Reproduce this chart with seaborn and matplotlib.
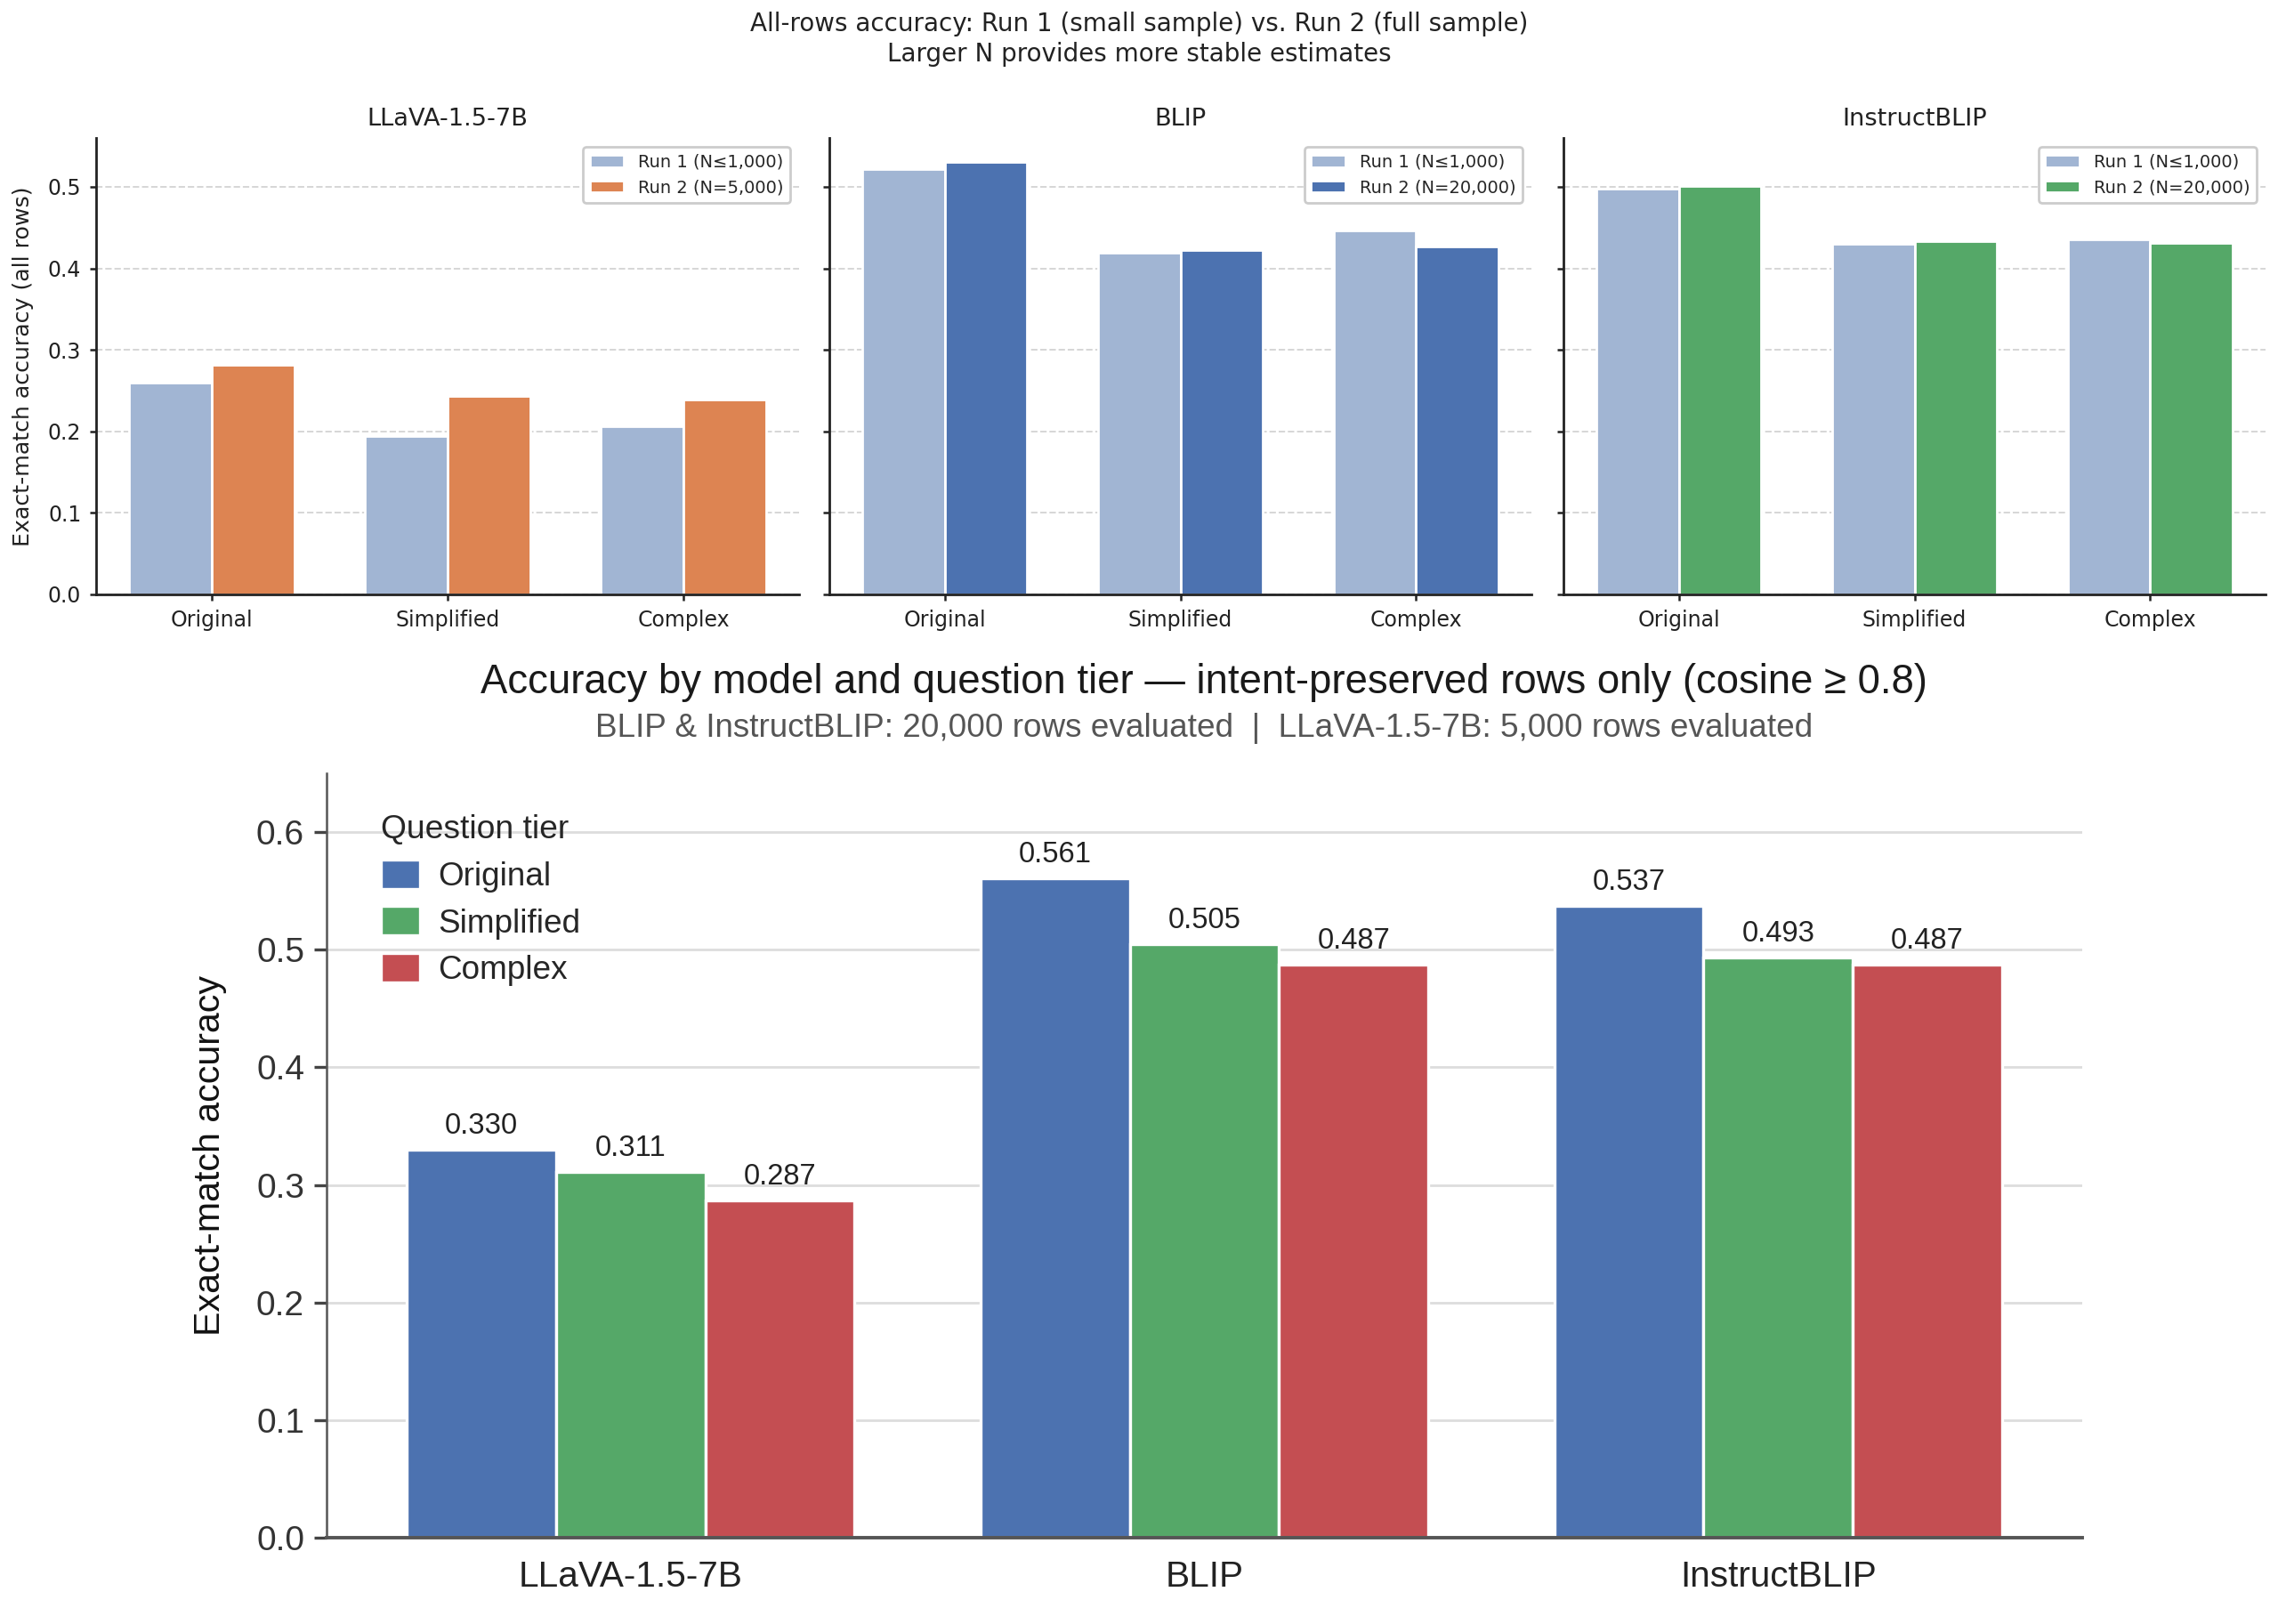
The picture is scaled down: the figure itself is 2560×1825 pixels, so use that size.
import numpy as np
import pandas as pd
import matplotlib
matplotlib.use("Agg")
import matplotlib.pyplot as plt
import seaborn as sns

# ---------------- data ----------------
tiers = ["Original", "Simplified", "Complex"]
models = ["LLaVA-1.5-7B", "BLIP", "InstructBLIP"]

run1_llava = [0.260, 0.194, 0.206]
run2_llava = [0.282, 0.243, 0.239]
run1_blip = [0.522, 0.419, 0.446]
run2_blip = [0.530, 0.422, 0.427]
run1_instruct = [0.498, 0.430, 0.436]
run2_instruct = [0.501, 0.433, 0.431]

run1_label = "Run 1 (N\u22641,000)"
run2_labels = ["Run 2 (N=5,000)", "Run 2 (N=20,000)", "Run 2 (N=20,000)"]

acc_original = [0.330, 0.561, 0.537]
acc_simplified = [0.311, 0.505, 0.493]
acc_complex = [0.287, 0.487, 0.487]

# ---------------- style ----------------
sns.set_theme(style="white")
plt.rcParams["font.family"] = ["DejaVu Sans"]

W, H = 2560, 1825
DPI = 200
fig = plt.figure(figsize=(W / DPI, H / DPI), dpi=DPI)

def rect(l, t, r, b):
    return [l / W, 1 - b / H, (r - l) / W, (b - t) / H]

run1_color = "#A1B5D3"
run2_colors = ["#DD8452", "#4C72B0", "#55A868"]
top_rects = [rect(108, 155, 898, 668), rect(932, 155, 1721, 668), rect(1757, 155, 2546, 668)]
run1_sets = [run1_llava, run1_blip, run1_instruct]
run2_sets = [run2_llava, run2_blip, run2_instruct]

for i in range(3):
    ax = fig.add_axes(top_rects[i])
    df = pd.DataFrame({
        "tier": tiers * 2,
        "acc": list(run1_sets[i]) + list(run2_sets[i]),
        "run": [run1_label] * 3 + [run2_labels[i]] * 3,
    })
    sns.barplot(data=df, x="tier", y="acc", hue="run", order=tiers,
                hue_order=[run1_label, run2_labels[i]],
                palette={run1_label: run1_color, run2_labels[i]: run2_colors[i]},
                saturation=1, width=0.7, edgecolor="white", linewidth=1.0, ax=ax)
    ax.set_xlim(-0.49, 2.49)
    ax.set_ylim(0, 0.56)
    ax.set_yticks([0.0, 0.1, 0.2, 0.3, 0.4, 0.5])
    ax.yaxis.grid(True, linestyle="--", color="#cccccc", linewidth=0.7, alpha=0.8)
    ax.set_axisbelow(True)
    for s in ["top", "right"]:
        ax.spines[s].set_visible(False)
    for s in ["left", "bottom"]:
        ax.spines[s].set_color("#222222")
        ax.spines[s].set_linewidth(1.0)
    ax.tick_params(axis="both", which="both", left=True, bottom=True, length=2.5,
                   width=0.9, color="#222222", labelsize=8.5, labelcolor="#222222", pad=3.5)
    ax.set_xlabel("")
    if i == 0:
        ax.set_ylabel("Exact-match accuracy (all rows)", fontsize=9.1, color="#222222")
        ax.yaxis.set_label_coords(-0.088, 0.5)
        ax.set_yticklabels(["0.0", "0.1", "0.2", "0.3", "0.4", "0.5"])
    else:
        ax.set_ylabel("")
        ax.set_yticklabels([])
    ax.set_title(models[i], fontsize=9.8, color="#222222", pad=5)
    h, l = ax.get_legend_handles_labels()
    ax.legend(h, l, loc="upper right", fontsize=7.0, frameon=True, fancybox=True,
              edgecolor="#cccccc", framealpha=1.0)

fig.text(0.5, 1 - 44 / H,
         "All-rows accuracy: Run 1 (small sample) vs. Run 2 (full sample)\nLarger N provides more stable estimates",
         ha="center", va="center", fontsize=10, color="#222222", linespacing=1.25)

# ---------------- bottom chart ----------------
bfont = ["Liberation Sans", "DejaVu Sans"]
axb = fig.add_axes(rect(367, 869, 2340, 1728))
dfb = pd.DataFrame({
    "model": models * 3,
    "acc": acc_original + acc_simplified + acc_complex,
    "tier": ["Original"] * 3 + ["Simplified"] * 3 + ["Complex"] * 3,
})
tier_palette = {"Original": "#4C72B0", "Simplified": "#55A868", "Complex": "#C44E52"}
sns.barplot(data=dfb, x="model", y="acc", hue="tier", order=models, hue_order=tiers,
            palette=tier_palette, saturation=1, width=0.78, edgecolor="white",
            linewidth=1.2, ax=axb)
axb.set_xlim(-0.53, 2.53)
axb.set_ylim(0, 0.65)
axb.set_yticks([0.0, 0.1, 0.2, 0.3, 0.4, 0.5, 0.6])
axb.set_yticklabels(["0.0", "0.1", "0.2", "0.3", "0.4", "0.5", "0.6"], family=bfont)
axb.set_xticks(range(3))
axb.set_xticklabels(models, family=bfont)
axb.yaxis.grid(True, linestyle="-", color="#dddddd", linewidth=1.0)
axb.set_axisbelow(True)
for s in ["top", "right"]:
    axb.spines[s].set_visible(False)
axb.spines["left"].set_color("#555555")
axb.spines["left"].set_linewidth(0.9)
axb.spines["bottom"].set_color("#555555")
axb.spines["bottom"].set_linewidth(1.4)
axb.tick_params(axis="y", left=True, length=5, width=1.2, color="#444444",
                labelsize=14, labelcolor="#333333", pad=4)
axb.tick_params(axis="x", bottom=False, length=0, labelsize=14.6,
                labelcolor="#222222", pad=9)
axb.set_xlabel("")
axb.set_ylabel("Exact-match accuracy", fontsize=14.8, color="#111111", family=bfont)
axb.yaxis.set_label_coords(-0.057, 0.5)

for cont in axb.containers:
    axb.bar_label(cont, fmt="%.3f", padding=4, fontsize=11.8, color="#222222",
                  family=bfont)

hb, lb = axb.get_legend_handles_labels()
leg = axb.legend(hb, lb, title="Question tier", loc="upper left",
                 bbox_to_anchor=(0.014, 0.985), frameon=False,
                 prop={"family": bfont, "size": 13.3},
                 title_fontproperties={"family": bfont, "size": 13.4},
                 handlelength=1.2, handleheight=1.0, handletextpad=0.55,
                 labelspacing=0.42)
leg._legend_box.align = "left"

cx = (367 + 2340) / 2 / W
fig.text(cx, 1 - 767 / H,
         "Accuracy by model and question tier \u2014 intent-preserved rows only (cosine \u2265 0.8)",
         ha="center", va="center", fontsize=16.4, color="#1a1a1a", family=bfont)
fig.text(cx, 1 - 818 / H,
         "BLIP & InstructBLIP: 20,000 rows evaluated  |  LLaVA-1.5-7B: 5,000 rows evaluated",
         ha="center", va="center", fontsize=13.3, color="#555555", family=bfont)

fig.savefig("out.png", dpi=DPI)
